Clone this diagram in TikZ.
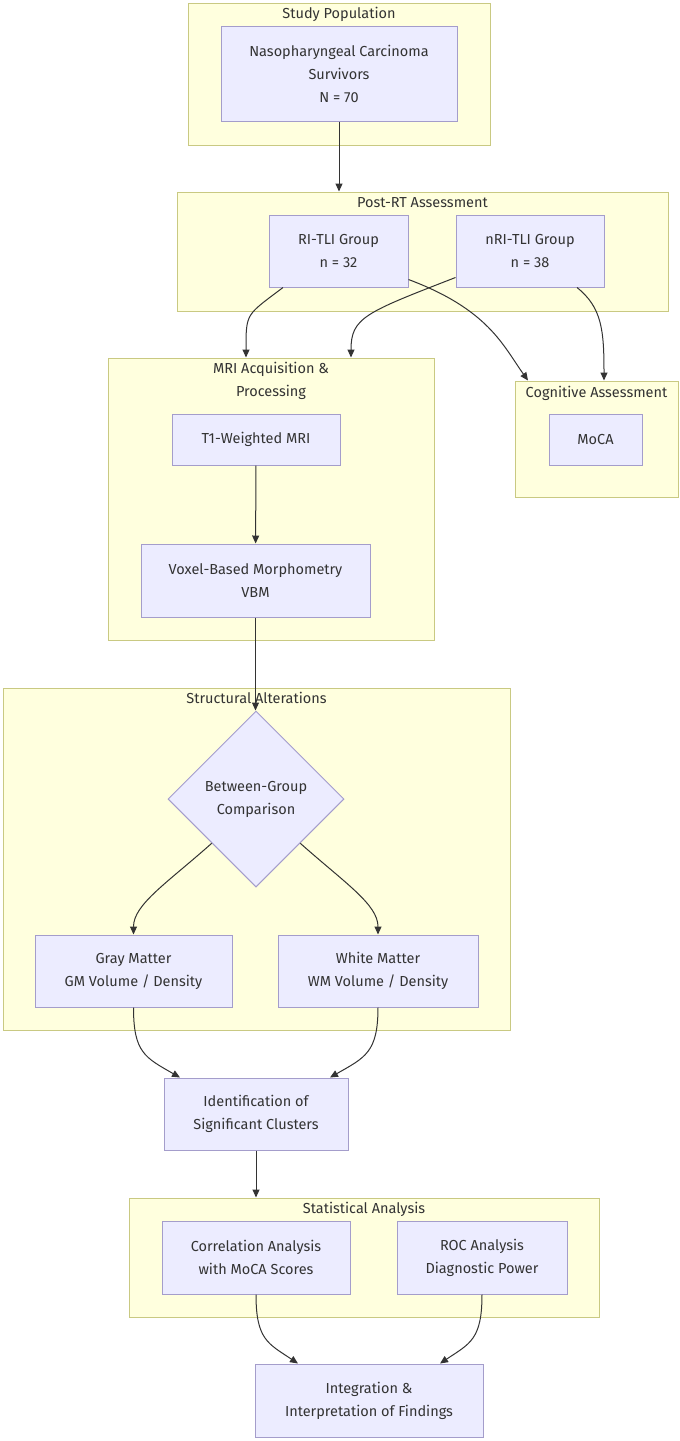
\documentclass[tikz,border=0pt]{standalone}
\usepackage{fontspec}
\setmainfont{Fira Sans}
\usetikzlibrary{arrows.meta,shapes.geometric}
\definecolor{clfill}{HTML}{FFFFDE}
\definecolor{clline}{HTML}{C9C982}
\definecolor{boxfill}{HTML}{ECECFF}
\definecolor{boxline}{HTML}{A49DCB}
\definecolor{ink}{HTML}{333333}
\tikzset{
  cluster/.style={draw=clline,fill=clfill,line width=1pt,inner sep=0pt},
  stage/.style={draw=boxline,fill=boxfill,line width=1pt,align=center,inner sep=0pt,text=ink},
  title/.style={text=ink,align=center,inner sep=0pt},
  flow/.style={draw=ink,line width=1pt,-{Triangle[length=8pt,width=7pt]}}
}
\begin{document}
\begin{tikzpicture}[x=1pt,y=-1pt,font=\fontsize{14.5}{23}\selectfont]
  \fill[white] (0,0) rectangle (680,1441);
  \useasboundingbox (0,0) rectangle (680,1441);
  \node[cluster,minimum width=302pt,minimum height=142pt] (pop) at (339,74) {};
  \node[title] (popt) at (339,14) {Study Population};
  \node[stage,minimum width=236pt,minimum height=95pt] (npc) at (339,73.5) {Nasopharyngeal Carcinoma\\Survivors\\N = 70};
  \node[cluster,minimum width=491pt,minimum height=119pt] (post) at (422.5,251.5) {};
  \node[title] (postt) at (422.5,203) {Post-RT Assessment};
  \node[stage,minimum width=139pt,minimum height=72pt] (ri) at (338.5,251) {RI-TLI Group\\n = 32};
  \node[stage,minimum width=148pt,minimum height=72pt] (nri) at (530,251) {nRI-TLI Group\\n = 38};
  \node[cluster,minimum width=326pt,minimum height=282pt] (mri) at (271,499) {};
  \node[title] (mrit) at (271,380.5) {MRI Acquisition \&\\Processing};
  \node[stage,minimum width=168pt,minimum height=51pt] (t1) at (256,439.5) {T1-Weighted MRI};
  \node[stage,minimum width=229pt,minimum height=73pt] (vbm) at (255.5,580.5) {Voxel-Based Morphometry\\VBM};
  \node[cluster,minimum width=163pt,minimum height=116pt] (cog) at (596.5,439) {};
  \node[title] (cogt) at (596.5,393) {Cognitive Assessment};
  \node[stage,minimum width=93pt,minimum height=51pt] (moca) at (595.5,439.5) {MoCA};
  \node[cluster,minimum width=507pt,minimum height=342pt] (struct) at (256.5,859) {};
  \node[title] (structt) at (256.5,698) {Structural Alterations};
  \node[stage,diamond,aspect=1,minimum width=176pt,minimum height=176pt] (cmp) at (256,799) {Between-Group\\Comparison};
  \node[stage,minimum width=197pt,minimum height=72pt] (gm) at (133.5,971) {Gray Matter\\GM Volume / Density};
  \node[stage,minimum width=200pt,minimum height=72pt] (wm) at (378,971) {White Matter\\WM Volume / Density};
  \node[stage,minimum width=184pt,minimum height=72pt] (ident) at (256,1114) {Identification of\\Significant Clusters};
  \node[cluster,minimum width=470pt,minimum height=119pt] (stat) at (364,1257.5) {};
  \node[title] (statt) at (364,1209) {Statistical Analysis};
  \node[stage,minimum width=188pt,minimum height=73pt] (corr) at (256,1257.5) {Correlation Analysis\\with MoCA Scores};
  \node[stage,minimum width=170pt,minimum height=73pt] (roc) at (482,1257.5) {ROC Analysis\\Diagnostic Power};
  \node[stage,minimum width=228pt,minimum height=73pt] (integ) at (369,1400.5) {Integration \&\\Interpretation of Findings};
  \draw[flow] (npc.south) -- (npc.south |- post.north);
  \draw[flow] ([xshift=-55.5pt]ri.south) .. controls +(-37,28) and +(0,-45) .. ([xshift=-25pt]mri.north);
  \draw[flow] ([yshift=8pt]ri.south east) .. controls +(80,30) and +(-25,-35) .. ([xshift=-68.5pt]cog.north);
  \draw[flow] ([yshift=10pt]nri.south west) .. controls +(-90,35) and +(0,-40) .. ([xshift=80pt]mri.north);
  \draw[flow] ([xshift=47pt]nri.south) .. controls +(25,20) and +(0,-50) .. ([xshift=7.5pt]cog.north);
  \draw[flow] (t1) -- (vbm);
  \draw[flow] (vbm.south) -- (vbm.south |- cmp.north);
  \draw[flow] (cmp.south west) .. controls +(-45,40) and +(0,-30) .. (gm.north);
  \draw[flow] (cmp.south east) .. controls +(45,40) and +(0,-30) .. (wm.north);
  \draw[flow] (gm.south) .. controls +(0,45) and +(-35,-20) .. ([xshift=-76pt]ident.north);
  \draw[flow] (wm.south) .. controls +(0,45) and +(35,-20) .. ([xshift=74pt]ident.north);
  \draw[flow] (ident.south) -- (ident.south |- stat.north);
  \draw[flow] (corr.south) .. controls +(0,45) and +(-30,-20) .. ([xshift=-71pt]integ.north);
  \draw[flow] (roc.south) .. controls +(0,45) and +(30,-20) .. ([xshift=71pt]integ.north);
\end{tikzpicture}
\end{document}
